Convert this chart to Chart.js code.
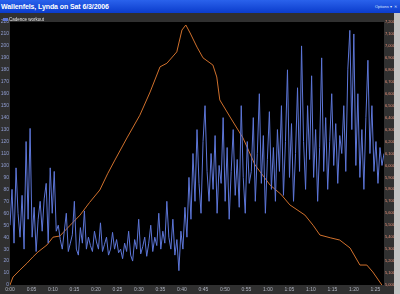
<!DOCTYPE html>
<html>
<head>
<meta charset="utf-8">
<script src="https://cdn.jsdelivr.net/npm/chart.js@4/dist/chart.umd.min.js"></script>
<style>
  html, body { margin: 0; padding: 0; }
  body { width: 400px; height: 294px; background: #c4c4c4; position: relative; overflow: hidden; font-family: "Liberation Sans", Arial, sans-serif; }
  #bar { position: absolute; left: 0; top: 0; width: 400px; height: 13px; background: linear-gradient(#2a62ec, #0b3ccc); color: #fff; }
  #titulo { position: absolute; left: 1px; top: 0px; font-weight: bold; font-size: 7px; line-height: 13px; letter-spacing: -0.1px; }
  #opciones { position: absolute; right: 3px; top: 0px; font-size: 4px; line-height: 13px; color: #dfe6ff; }
  #marco { position: absolute; left: 0; top: 13px; width: 394px; height: 281px; background: #303030; }
  #leyenda { position: absolute; left: 3px; top: 4px; font-size: 4.5px; color: #e8e8e8; line-height: 5px; }
  #leyenda i { display: inline-block; width: 5px; height: 3px; background: #5d76d8; margin-right: 1px; vertical-align: middle; }
</style>
</head>
<body>
<div id="bar"><span id="titulo">Wallenfels, Lynda on Sat 6/3/2006</span><span id="opciones">Options ▾ &nbsp;✕</span></div>
<div id="marco"><canvas id="grafico1" width="394" height="281"></canvas><div id="leyenda"><i></i>Cadence workout</div></div>
<script>
// cadencia (rpm), una muestra cada ~0.47 min
const cadencia = [
  50, 80, 35, 98, 60, 40, 75, 30, 120, 55, 131, 40, 65, 28, 55, 70, 45, 72, 85, 35, 98, 60, 95, 45, 50,
  38, 30, 45, 60, 28, 35, 42, 70, 30, 25, 48, 35, 62, 30, 40, 33, 28, 45, 36, 30, 52, 28, 34, 40, 25, 30, 44, 30, 38, 27,
  30, 22, 35, 28, 45, 25, 20, 38, 30, 55, 26, 32, 40, 24, 35, 50, 28, 40, 33, 60, 30, 45, 35, 70, 40, 30, 55, 25, 38, 12, 45, 30,
  65, 40, 90, 55, 110, 70, 130, 85, 60, 120, 150, 95, 70, 110, 80, 125, 60, 100, 85, 140, 70, 115, 55, 95, 130, 75, 105, 65, 150, 90, 60, 120, 85,
  95, 140, 70, 110, 160, 85, 125, 60, 105, 145, 80, 115, 70, 130, 95, 150, 75, 120, 180, 90, 135, 70, 110, 165, 95,
  200, 120, 80, 150, 105, 175, 90, 130, 70, 115, 190, 95, 140, 80, 120, 160, 100, 135, 85, 125,
  110, 150, 95, 180, 213, 130, 210, 100, 160, 90, 130, 80, 140, 188, 110, 150, 95, 120, 85, 115, 100, 110
];
const duracion = 87; // minutos

const altMin = [0, 0.7, 2.3, 4, 5.3, 6.5, 8.6, 10, 11.6, 14, 16.3, 18.5, 20.9, 22.7, 24.4, 27.2, 30.2, 32.6, 34.9, 36.5, 38.8, 40, 40.9,
  41.9, 43.5, 44.9, 47.2, 48.1, 48.8, 51.2, 54.2, 57, 60.5, 63, 65.1, 68.6, 70.5, 72.1, 74.5, 76.7, 79.1, 81.4, 83, 84.4, 86.5];
const altPies = [5000, 5067, 5125, 5184, 5234, 5276, 5335, 5400, 5410, 5500, 5585, 5690, 5795, 5930, 6045, 6230, 6420, 6615, 6825, 6855, 6950, 7133, 7175,
  7108, 6990, 6900, 6840, 6740, 6548, 6405, 6230, 6004, 5836, 5760, 5670, 5585, 5500, 5418, 5395, 5376, 5310, 5167, 5167, 5109, 5000];

const etiquetasX = ["0:00", "0:05", "0:10", "0:15", "0:20", "0:25", "0:30", "0:35", "0:40", "0:45",
  "0:50", "0:55", "1:00", "1:05", "1:10", "1:15", "1:20", "1:25"];

document.addEventListener("DOMContentLoaded", () => {
  const lienzo = document.querySelector("#grafico1");
  const paso = duracion / (cadencia.length - 1);

  const fondoNegro = {
    id: 'fondoNegro',
    beforeDatasetsDraw(chart) {
      const a = chart.chartArea;
      const ctx = chart.ctx;
      ctx.save();
      ctx.fillStyle = '#000';
      ctx.fillRect(a.left, a.top, a.right - a.left, a.bottom - a.top);
      ctx.restore();
    }
  };

  const fuente = { size: 5, family: 'Liberation Sans' };
  const sinRejilla = { display: false, drawTicks: false, tickLength: 0 };

  new Chart(lienzo, {
    type: 'line',
    data: {
      datasets: [
        {
          label: 'Cadence workout',
          data: cadencia.map((v, i) => ({ x: i * paso, y: v })),
          borderColor: '#5d76d8',
          borderWidth: 1,
          pointRadius: 0,
          yAxisID: 'y'
        },
        {
          label: 'Altitude',
          data: altPies.map((v, i) => ({ x: altMin[i], y: v })),
          borderColor: '#d0702c',
          borderWidth: 1,
          pointRadius: 0,
          yAxisID: 'y2'
        }
      ]
    },
    options: {
      responsive: false,
      animation: false,
      layout: { padding: { top: 9 } },
      plugins: {
        legend: { display: false },
        tooltip: { enabled: false }
      },
      scales: {
        x: {
          type: 'linear',
          min: 0,
          max: duracion,
          grid: sinRejilla,
          border: { display: false },
          afterFit: s => { s.height = 9; },
          afterBuildTicks: s => { s.ticks = etiquetasX.map((t, i) => ({ value: i * 5 })); },
          ticks: {
            color: '#b0b4c0',
            padding: 2,
            maxRotation: 0,
            autoSkip: false,
            font: fuente,
            callback: (v, i) => etiquetasX[i]
          }
        },
        y: {
          position: 'left',
          min: 0,
          max: 220,
          grid: sinRejilla,
          border: { display: false },
          afterFit: s => { s.width = 10; },
          ticks: {
            stepSize: 10,
            autoSkip: false,
            color: '#8f9cd0',
            padding: 1,
            font: fuente
          }
        },
        y2: {
          position: 'right',
          min: 5000,
          max: 7200,
          grid: sinRejilla,
          border: { display: false },
          afterFit: s => { s.width = 10; },
          ticks: {
            stepSize: 100,
            autoSkip: false,
            color: '#e8927a',
            padding: 1,
            font: { size: 4, family: 'Liberation Sans' }
          }
        }
      }
    },
    plugins: [fondoNegro]
  });
});
</script>
</body>
</html>
